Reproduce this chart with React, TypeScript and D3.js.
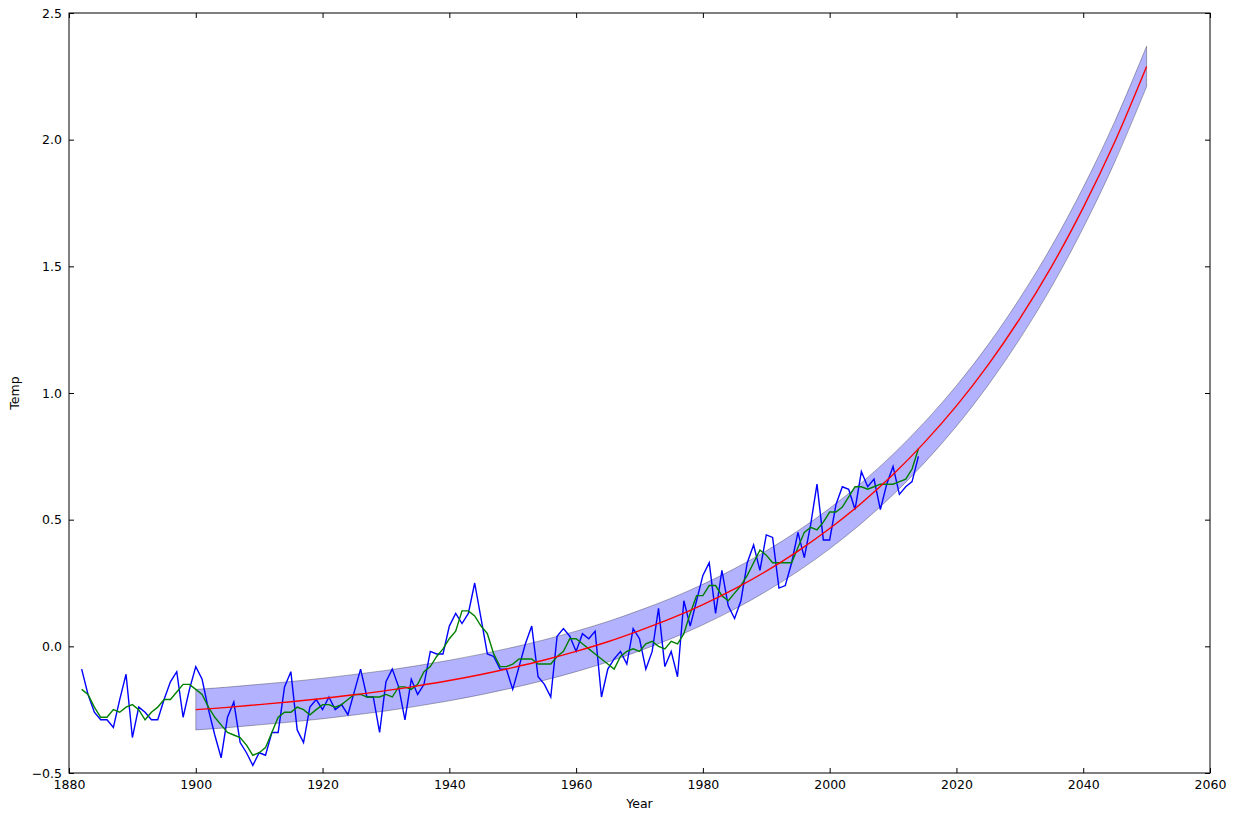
import { useEffect, useRef } from 'react'
import * as d3 from 'd3'

// yearly anomaly, 1882..2014
const years: number[] = d3.range(1882, 2015)
const annual: number[] = [
  -0.09, -0.19, -0.26, -0.29, -0.29, -0.32, -0.21, -0.11,
  -0.36, -0.24, -0.26, -0.29, -0.29, -0.21, -0.14, -0.10, -0.28, -0.17,
  -0.08, -0.13, -0.25, -0.35, -0.44, -0.28, -0.22, -0.38, -0.42, -0.47,
  -0.42, -0.43, -0.34, -0.34, -0.16, -0.10, -0.33, -0.38, -0.24, -0.21,
  -0.25, -0.20, -0.25, -0.23, -0.27, -0.18, -0.09, -0.20, -0.20, -0.34,
  -0.14, -0.09, -0.16, -0.29, -0.13, -0.19, -0.15, -0.02, -0.03, -0.03,
  0.08, 0.13, 0.09, 0.13, 0.25, 0.11, -0.03, -0.04, -0.09, -0.09,
  -0.17, -0.08, 0.01, 0.08, -0.12, -0.15, -0.20, 0.04, 0.07, 0.04,
  -0.02, 0.05, 0.03, 0.06, -0.20, -0.09, -0.05, -0.02, -0.07, 0.07,
  0.03, -0.09, -0.02, 0.15, -0.08, -0.02, -0.12, 0.18, 0.08, 0.18,
  0.28, 0.33, 0.13, 0.30, 0.16, 0.11, 0.18, 0.33, 0.40, 0.30,
  0.44, 0.43, 0.23, 0.24, 0.33, 0.45, 0.35, 0.48, 0.64, 0.42,
  0.42, 0.56, 0.63, 0.62, 0.54, 0.69, 0.63, 0.66, 0.54, 0.64,
  0.71, 0.60, 0.63, 0.65, 0.75,
]

// smoothed series, same years
const smoothed: number[] = [
  -0.17, -0.19, -0.24, -0.28, -0.28, -0.25, -0.26, -0.24,
  -0.23, -0.25, -0.29, -0.26, -0.24, -0.21, -0.21, -0.18, -0.15, -0.15,
  -0.17, -0.19, -0.24, -0.28, -0.31, -0.34, -0.35, -0.36, -0.39, -0.43,
  -0.42, -0.40, -0.34, -0.28, -0.26, -0.26, -0.24, -0.25, -0.27, -0.25,
  -0.23, -0.23, -0.24, -0.23, -0.21, -0.19, -0.19, -0.20, -0.20, -0.20,
  -0.19, -0.20, -0.16, -0.16, -0.17, -0.15, -0.10, -0.08, -0.04, -0.01,
  0.03, 0.06, 0.14, 0.14, 0.12, 0.08, 0.05, -0.03, -0.08, -0.08,
  -0.07, -0.05, -0.05, -0.05, -0.07, -0.07, -0.07, -0.04, -0.02, 0.03,
  0.03, 0.01, -0.01, -0.03, -0.05, -0.07, -0.09, -0.04, -0.02, -0.01,
  -0.02, 0.01, 0.02, 0.00, -0.01, 0.02, 0.01, 0.05, 0.13, 0.20,
  0.20, 0.24, 0.24, 0.20, 0.18, 0.21, 0.24, 0.28, 0.33, 0.38,
  0.36, 0.33, 0.33, 0.33, 0.33, 0.39, 0.45, 0.47, 0.46, 0.49,
  0.53, 0.53, 0.55, 0.59, 0.63, 0.63, 0.62, 0.63, 0.64, 0.64,
  0.64, 0.65, 0.66, 0.70, 0.78,
]

// fitted curve, every 5 years 1900..2050
const fitYears: number[] = d3.range(1900, 2051, 5)
const fitValues: number[] = [
  -0.250, -0.241, -0.230, -0.219, -0.206, -0.191, -0.175, -0.156,
  -0.135, -0.111, -0.084, -0.054, -0.020, 0.018, 0.062, 0.110,
  0.165, 0.227, 0.297, 0.376, 0.465, 0.565, 0.678, 0.806,
  0.949, 1.111, 1.294, 1.499, 1.732, 1.993, 2.289,
]
const bandHalfWidth = 0.08

const xTicks = [1880, 1900, 1920, 1940, 1960, 1980, 2000, 2020, 2040, 2060]
const yTicks = [-0.5, 0.0, 0.5, 1.0, 1.5, 2.0, 2.5]

export default function App() {
  const svgRef = useRef<SVGSVGElement>(null)

  useEffect(() => {
    if (!svgRef.current) return
    const svg = d3.select(svgRef.current)
    svg.selectAll('*').remove()

    const W = 1240
    const H = 813
    const margin = { top: 13, right: 30, bottom: 40, left: 69 }
    const width = W - margin.left - margin.right
    const height = H - margin.top - margin.bottom
    const font = 'DejaVu Sans, sans-serif'

    const chart = svg.append('g').attr('transform', `translate(${margin.left},${margin.top})`)

    const x = d3.scaleLinear().domain([1880, 2060]).range([0, width])
    const y = d3.scaleLinear().domain([-0.5, 2.5]).range([height, 0])

    const fit = fitYears.map((yr, i) => ({ yr, v: fitValues[i] }))
    const obs = years.map((yr, i) => ({ yr, a: annual[i], s: smoothed[i] }))

    // confidence band
    const band = d3.area<{ yr: number; v: number }>()
      .x(d => x(d.yr))
      .y0(d => y(d.v - bandHalfWidth))
      .y1(d => y(d.v + bandHalfWidth))
      .curve(d3.curveCatmullRom)
    chart.append('path')
      .datum(fit)
      .attr('d', band(fit) + 'Z')
      .attr('fill', '#0000ff')
      .attr('fill-opacity', 0.3)
      .attr('stroke', '#000')
      .attr('stroke-opacity', 0.3)
      .attr('stroke-width', 1)

    // annual values
    chart.append('path')
      .datum(obs)
      .attr('fill', 'none')
      .attr('stroke', '#0000ff')
      .attr('stroke-width', 1.4)
      .attr('d', d3.line<{ yr: number; a: number }>().x(d => x(d.yr)).y(d => y(d.a)))

    // smoothed
    chart.append('path')
      .datum(obs)
      .attr('fill', 'none')
      .attr('stroke', '#008000')
      .attr('stroke-width', 1.4)
      .attr('d', d3.line<{ yr: number; s: number }>().x(d => x(d.yr)).y(d => y(d.s)))

    // fit line
    chart.append('path')
      .datum(fit)
      .attr('fill', 'none')
      .attr('stroke', '#ff0000')
      .attr('stroke-width', 1.4)
      .attr('d', d3.line<{ yr: number; v: number }>().x(d => x(d.yr)).y(d => y(d.v)).curve(d3.curveCatmullRom))

    // axes, ticks pointing inward on all sides
    const fmtY = (d: d3.NumberValue) => d3.format('.1f')(+d).replace('-', '\u2212')
    const bottom = chart.append('g')
      .attr('transform', `translate(0,${height})`)
      .call(d3.axisBottom(x).tickValues(xTicks).tickFormat(d3.format('d')).tickSize(-5).tickPadding(7))
    const left = chart.append('g')
      .call(d3.axisLeft(y).tickValues(yTicks).tickFormat(fmtY).tickSize(-5).tickPadding(7))
    chart.append('g')
      .call(d3.axisTop(x).tickValues(xTicks).tickFormat(() => '').tickSize(-5))
    chart.append('g')
      .attr('transform', `translate(${width},0)`)
      .call(d3.axisRight(y).tickValues(yTicks).tickFormat(() => '').tickSize(-5))

    chart.selectAll('.domain').remove()
    chart.selectAll('.tick line').attr('stroke', '#000')
    ;[bottom, left].forEach(g => g.selectAll('text')
      .attr('font-family', font)
      .attr('font-size', 12.5)
      .attr('fill', '#000'))

    // frame
    chart.append('rect')
      .attr('x', 0).attr('y', 0)
      .attr('width', width).attr('height', height)
      .attr('fill', 'none')
      .attr('stroke', '#000')
      .attr('stroke-width', 1)

    // axis labels
    svg.append('text')
      .attr('x', margin.left + width / 2)
      .attr('y', 808)
      .attr('text-anchor', 'middle')
      .attr('font-family', font)
      .attr('font-size', 12.5)
      .text('Year')
    svg.append('text')
      .attr('transform', `translate(19,${margin.top + height / 2}) rotate(-90)`)
      .attr('text-anchor', 'middle')
      .attr('font-family', font)
      .attr('font-size', 12.5)
      .text('Temp')
  }, [])

  return (
    <svg
      ref={svgRef}
      width={1240}
      height={813}
      style={{ position: 'absolute', left: 0, top: 0, background: '#fff' }}
    />
  )
}
